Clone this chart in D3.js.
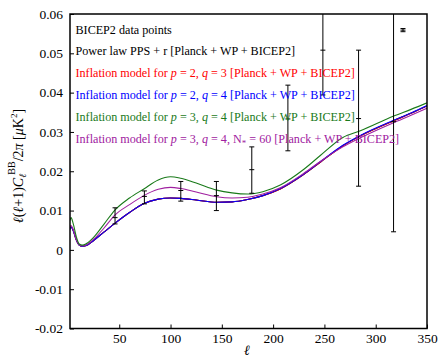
<!DOCTYPE html>
<html><head><meta charset="utf-8">
<script src="https://cdn.jsdelivr.net/npm/d3@7/dist/d3.min.js"></script>
<style>
body{margin:0;background:#fff;}
</style></head>
<body><svg id="c" width="439" height="359"></svg>
<script>
// ---- data ----
const ell = [2,3,5,8,11,14,18,25,35,46,60,74,88,100,110,125,145,160,175,190,207,230,246,268,285,317,335,350];
const powerLaw = [0.0052,0.0058,0.0050,0.0026,0.0012,0.0009,0.0011,0.0024,0.0045,0.0068,0.0095,0.0118,0.0129,0.0132,0.0131,0.0127,0.0121,0.0122,0.0128,0.0138,0.0155,0.0192,0.0223,0.0265,0.0290,0.0328,0.0348,0.0366];
const p2q3 = [0.0053,0.0059,0.0051,0.0026,0.0012,0.0009,0.0011,0.0024,0.0045,0.0068,0.0095,0.0118,0.0129,0.0132,0.0131,0.0127,0.0121,0.0122,0.0128,0.0138,0.0155,0.0192,0.0223,0.0265,0.0290,0.0328,0.0348,0.0366];
const p2q4 = [0.0052,0.0058,0.0050,0.0026,0.0012,0.0009,0.0011,0.0024,0.0045,0.0068,0.0095,0.0118,0.0129,0.0132,0.0131,0.0127,0.0121,0.0122,0.0128,0.0138,0.0156,0.0193,0.0224,0.0266,0.0291,0.0329,0.0349,0.0367];
const p3q4 = [0.0075,0.0082,0.0068,0.0035,0.0015,0.0012,0.0016,0.0032,0.0065,0.0102,0.0132,0.0155,0.0178,0.0186,0.0182,0.0170,0.0152,0.0145,0.0142,0.0148,0.0165,0.0205,0.0240,0.0286,0.0303,0.0340,0.0358,0.0374];
const p3q4N60 = [0.0058,0.0062,0.0053,0.0027,0.0013,0.0010,0.0013,0.0027,0.0055,0.0089,0.0115,0.0138,0.0154,0.0159,0.0156,0.0147,0.0135,0.0132,0.0134,0.0142,0.0158,0.0195,0.0225,0.0262,0.0285,0.0323,0.0343,0.0360];

const bicepL   = [45.9, 74.5, 110, 144.7, 179.2, 214.4, 248.5, 283.3, 317.4, 326.6];
const bicepVal = [0.0082, 0.0136, 0.0151, 0.0138, 0.0204, 0.0333, 0.0508, 0.0334, 0.0326, 0.0559];
const bicepLo  = [0.0066, 0.0117, 0.0124, 0.0100, 0.0144, 0.0252, 0.0394, 0.0162, 0.0046, 0.0555];
const bicepHi  = [0.0107, 0.0150, 0.0174, 0.0174, 0.0262, 0.0419, 0.0650, 0.0508, 0.0650, 0.0563];

const yTicks = [-0.02,-0.01,0,0.01,0.02,0.03,0.04,0.05,0.06];
const xTicks = [50,100,150,200,250,300,350];

// ---- chart ----
const SERIF = "'Liberation Serif','DejaVu Serif','Noto Serif','Times New Roman',Times,'Nimbus Roman','Nimbus Roman No9 L',FreeSerif,Tinos,serif";
const svg = d3.select("#c");
const L=70, R=427, T=14, B=328.5;
const x = d3.scaleLinear().domain([2,350]).range([L,R]);
const y = d3.scaleLinear().domain([-0.02,0.06]).range([B,T]);

svg.append("defs").append("clipPath").attr("id","clip")
  .append("rect").attr("x",L).attr("y",T).attr("width",R-L).attr("height",B-T);

const fmt = v => v===0 ? "0" : (v<0?"-":"") + Math.abs(v).toFixed(2);
const ya = svg.append("g").attr("transform",`translate(${L},0)`)
  .call(d3.axisLeft(y).tickValues(yTicks).tickSize(-4).tickPadding(7).tickFormat(fmt));
const xa = svg.append("g").attr("transform",`translate(0,${B})`)
  .call(d3.axisBottom(x).tickValues(xTicks).tickSize(-4).tickPadding(5).tickFormat(d3.format("d")));
[ya,xa].forEach(g=>{
  g.attr("font-family",SERIF).attr("font-size",13.5);
  g.select(".domain").remove();
  g.selectAll(".tick line").attr("stroke","#000").attr("stroke-width",1);
  g.selectAll(".tick text").attr("fill","#000");
});

const series = [
  {v:powerLaw, c:"#000000"},
  {v:p2q3, c:"#ff0000"},
  {v:p2q4, c:"#0000ff"},
  {v:p3q4N60, c:"#a020a0"},
  {v:p3q4, c:"#1a7a1a"}
];
const line = d3.line().x(d=>x(d[0])).y(d=>y(d[1])).curve(d3.curveMonotoneX);
const gl = svg.append("g").attr("clip-path","url(#clip)");
series.forEach(s=>{
  gl.append("path").datum(ell.map((l,i)=>[l,s.v[i]]))
    .attr("d",line).attr("fill","none").attr("stroke",s.c).attr("stroke-width",1.1);
});

// error bars
const ge = svg.append("g").attr("clip-path","url(#clip)").attr("stroke","#000").attr("stroke-width",1);
bicepL.forEach((l,i)=>{
  const cx = x(l);
  ge.append("line").attr("x1",cx).attr("x2",cx).attr("y1",y(bicepLo[i])).attr("y2",y(bicepHi[i]));
  [bicepLo[i],bicepHi[i],bicepVal[i]].forEach(v=>{
    ge.append("line").attr("x1",cx-2.5).attr("x2",cx+2.5).attr("y1",y(v)).attr("y2",y(v));
  });
});

// frame
svg.append("rect").attr("x",L).attr("y",T).attr("width",R-L).attr("height",B-T)
  .attr("fill","none").attr("stroke","#000").attr("stroke-width",1.5);

// legend
const leg = [
  {c:"#000", parts:[["BICEP2 data points"]]},
  {c:"#000", parts:[["Power law PPS + r [Planck + WP + BICEP2]"]]},
  {c:"#ff0000", parts:[["Inflation model for "],["p","i"],[" = 2, "],["q","i"],[" = 3 [Planck + WP + BICEP2]"]]},
  {c:"#0000ff", parts:[["Inflation model for "],["p","i"],[" = 2, "],["q","i"],[" = 4 [Planck + WP + BICEP2]"]]},
  {c:"#1a7a1a", parts:[["Inflation model for "],["p","i"],[" = 3, "],["q","i"],[" = 4 [Planck + WP + BICEP2]"]]},
  {c:"#a020a0", parts:[["Inflation model for "],["p","i"],[" = 3, "],["q","i"],[" = 4, N"],["*","sub"],[" = 60 [Planck + WP + BICEP2]","after"]]}
];
const legTexts = leg.map((d,i)=>{
  const t = svg.append("text").attr("x",75.5).attr("y",33.5+i*21.9).attr("fill",d.c)
    .attr("font-family",SERIF).attr("font-size",13);
  d.parts.forEach(p=>{
    const ts = t.append("tspan").text(p[0]);
    if(p[1]==="i") ts.attr("font-style","italic");
    if(p[1]==="sub") ts.attr("dy",2.5).attr("font-size",9);
    if(p[1]==="after") ts.attr("dy",-2.5);
  });
  return t;
});
// fit font size so the longest entry spans the width seen in the reference (~324px)
const w = legTexts[5].node().getComputedTextLength();
const fs = Math.min(13, 13*324/w);
legTexts.forEach(t=>t.attr("font-size",fs));

// axis titles
svg.append("text").attr("x",247).attr("y",355).attr("text-anchor","middle")
  .attr("font-family",SERIF).attr("font-size",14).attr("font-style","italic").text("ℓ");
const yl = svg.append("text").attr("transform","translate(23,166) rotate(-90)")
  .attr("text-anchor","middle").attr("font-family",SERIF).attr("font-size",14);
yl.append("tspan").attr("font-style","italic").text("ℓ");
yl.append("tspan").text("(");
yl.append("tspan").attr("font-style","italic").text("ℓ");
yl.append("tspan").text("+1)");
yl.append("tspan").attr("font-style","italic").text("C");
yl.append("tspan").attr("font-style","italic").attr("font-size",10).attr("dy",3).text("ℓ");
yl.append("tspan").attr("font-size",10).attr("dy",-11).attr("dx",-1).text("BB");
yl.append("tspan").attr("dy",8).text("/2");
yl.append("tspan").attr("font-style","italic").text("π");
yl.append("tspan").text(" [");
yl.append("tspan").attr("font-style","italic").text("μ");
yl.append("tspan").text("K");
yl.append("tspan").attr("font-size",9).attr("dy",-6).text("2");
yl.append("tspan").attr("dy",6).text("]");
</script></body></html>
